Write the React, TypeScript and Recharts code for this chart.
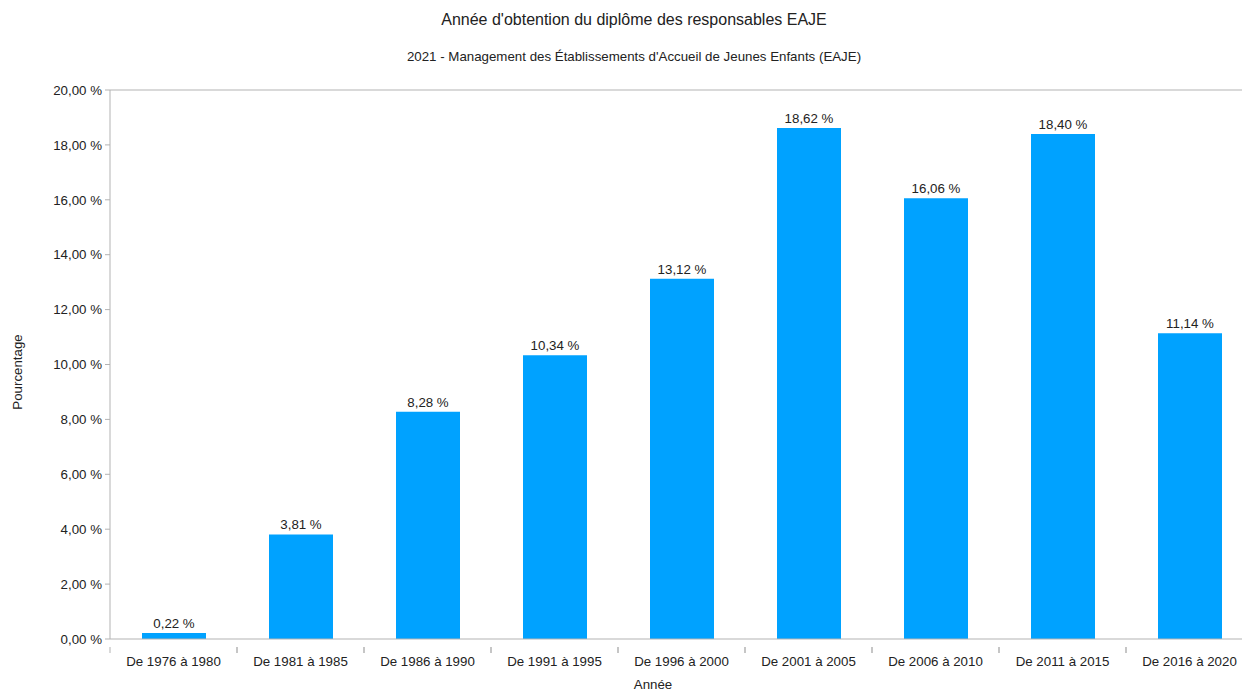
import { Bar, BarChart, LabelList, ReferenceLine, XAxis, YAxis } from 'recharts';

const categories = [
	'De 1976 à 1980',
	'De 1981 à 1985',
	'De 1986 à 1990',
	'De 1991 à 1995',
	'De 1996 à 2000',
	'De 2001 à 2005',
	'De 2006 à 2010',
	'De 2011 à 2015',
	'De 2016 à 2020'
];
const percentages = [0.22, 3.81, 8.28, 10.34, 13.12, 18.62, 16.06, 18.4, 11.14];
const yTicks = [0, 2, 4, 6, 8, 10, 12, 14, 16, 18, 20];

const data = categories.map((label, i) => ({ label, value: percentages[i] }));

const FONT = '"Liberation Sans", Arial, sans-serif';
const TEXT = '#222222';
const AXIS = '#b3b3b3';
const BAR = '#00a2ff';
const SMALL = 13.3;

const CHART_W = 1262;
const CHART_H = 692;
const MARGIN = { top: 90, right: 9, bottom: 0, left: 0 };
const Y_AXIS_W = 110;
const BAND = (CHART_W - MARGIN.left - MARGIN.right - Y_AXIS_W) / categories.length;

function formatPct(v: number) {
	return `${v.toFixed(2).replace('.', ',')} %`;
}

function CategoryTick(props: any) {
	const { x, y, payload } = props;
	return (
		<g>
			<line x1={x - BAND / 2} x2={x - BAND / 2} y1={y} y2={y + 6} stroke={AXIS} />
			<line x1={x + BAND / 2} x2={x + BAND / 2} y1={y} y2={y + 6} stroke={AXIS} />
			<text x={x} y={y + 19} textAnchor="middle" fill={TEXT} fontSize={SMALL} fontFamily={FONT}>
				{payload.value}
			</text>
		</g>
	);
}

export default function App() {
	return (
		<div
			style={{
				position: 'absolute',
				left: 0,
				top: 0,
				width: 1242,
				height: 692,
				overflow: 'hidden',
				background: '#fff'
			}}
		>
			<BarChart width={CHART_W} height={CHART_H} data={data} margin={MARGIN}>
				<ReferenceLine y={20} stroke={AXIS} />
				<XAxis
					dataKey="label"
					height={53}
					axisLine={{ stroke: AXIS }}
					tickLine={false}
					interval={0}
					tick={<CategoryTick />}
				/>
				<YAxis
					width={Y_AXIS_W}
					domain={[0, 20]}
					ticks={yTicks}
					interval={0}
					axisLine={{ stroke: AXIS }}
					tickLine={{ stroke: AXIS }}
					tickSize={5}
					tickMargin={3}
					tickFormatter={formatPct}
					tick={{ fill: TEXT, fontSize: SMALL, fontFamily: FONT }}
				/>
				<Bar dataKey="value" fill={BAR} barSize={64} isAnimationActive={false}>
					<LabelList
						dataKey="value"
						position="top"
						offset={5}
						formatter={(v: any) => formatPct(Number(v))}
						style={{ fill: TEXT, fontSize: SMALL, fontFamily: FONT }}
					/>
				</Bar>
			</BarChart>
			<svg
				width={1242}
				height={692}
				style={{ position: 'absolute', left: 0, top: 0, pointerEvents: 'none' }}
			>
				<text x={634} y={25} textAnchor="middle" fill={TEXT} fontSize={16} fontFamily={FONT}>
					Année d'obtention du diplôme des responsables EAJE
				</text>
				<text x={634} y={61} textAnchor="middle" fill={TEXT} fontSize={SMALL} fontFamily={FONT}>
					2021 - Management des Établissements d'Accueil de Jeunes Enfants (EAJE)
				</text>
				<text
					x={22}
					y={372}
					textAnchor="middle"
					fill={TEXT}
					fontSize={SMALL}
					fontFamily={FONT}
					transform="rotate(-90 22 372)"
				>
					Pourcentage
				</text>
				<text x={653} y={689} textAnchor="middle" fill={TEXT} fontSize={SMALL} fontFamily={FONT}>
					Année
				</text>
			</svg>
		</div>
	);
}
